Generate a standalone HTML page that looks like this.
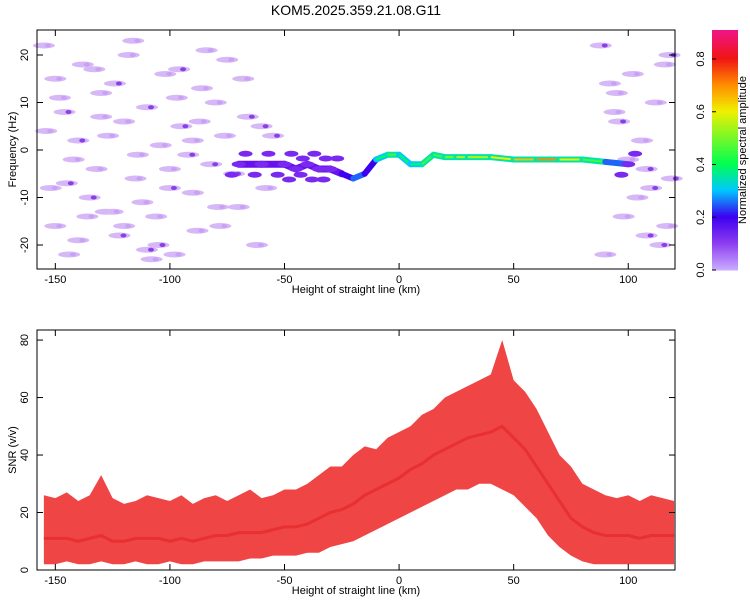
<!DOCTYPE html>
<html><head><meta charset="utf-8"><style>
body{margin:0;background:#fff;font-family:"Liberation Sans",sans-serif;}
svg text{font-family:"Liberation Sans",sans-serif;font-size:11px;fill:#000}
</style></head><body>
<svg id="c" width="750" height="600">
<text x="356" y="15" text-anchor="middle" font-size="14" style="font-size:14px">KOM5.2025.359.21.08.G11</text>
<g id="top"></g>
<g id="bot"></g>
<g id="cb"></g>
</svg>
<script>
const noiseX=[-155,-150,-146,-142,-138,-135,-130,-127,-122,-118,-115,-110,-106,-102,-98,-95,-90,-86,-82,-78,-75,-70,-66,-62,-152,-140,-132,-124,-112,-104,-96,-88,-80,-72,-148,-136,-120,-108,-92,-84,88,92,96,100,104,108,112,116,119,90,98,106,114,94,102,110,118,-144,-128,-116,-100,-76,-68,-154,-145,-133,-125,-114,-105,-97,-87,-79,-140,-120,-100,-60,-55,-58,95,108,117,-150,-130,-110,-90];
const noiseF=[22,15,8,-2,18,-10,12,3,-18,20,-6,9,-14,16,-22,5,-9,13,-3,-16,19,-12,7,-20,-8,-19,-4,14,-11,1,17,-17,10,-5,11,-14,6,-23,-1,21,22,14,6,-2,-10,-18,10,18,-6,-22,-14,2,-20,8,16,-8,20,-22,-13,23,-8,3,15,4,-7,17,-13,-1,-20,11,6,-12,2,-16,-4,5,3,-8,12,-4,-16,-16,7,-21,2];
const noiseA=[0.1,0.1,0.15,0.1,0.1,0.12,0.1,0.1,0.12,0.1,0.1,0.15,0.1,0.1,0.1,0.12,0.1,0.1,0.15,0.1,0.1,0.1,0.12,0.1,0.1,0.1,0.1,0.12,0.1,0.1,0.15,0.1,0.1,0.12,0.1,0.1,0.1,0.1,0.12,0.1,0.15,0.1,0.12,0.1,0.1,0.15,0.1,0.1,0.12,0.1,0.1,0.1,0.12,0.1,0.1,0.15,0.12,0.1,0.1,0.1,0.12,0.1,0.1,0.1,0.12,0.1,0.1,0.1,0.12,0.1,0.1,0.1,0.12,0.1,0.1,0.15,0.12,0.1,0.1,0.12,0.1,0.1,0.1,0.12,0.1];
const trackX=[-70,-60,-50,-45,-40,-35,-30,-25,-20,-15,-10,-5,0,5,10,15,20,25,30,40,50,60,70,80,90,100];
const trackF=[-3,-3,-3,-4,-3,-4,-4,-5,-6,-5,-2,-1,-1,-3,-3,-1,-1.5,-1.5,-1.5,-1.5,-2,-2,-2,-2,-2.5,-3];
const trackA=[0.12,0.12,0.15,0.15,0.15,0.15,0.15,0.2,0.25,0.2,0.3,0.35,0.3,0.3,0.35,0.35,0.4,0.45,0.45,0.5,0.55,0.6,0.5,0.35,0.25,0.18];
const snrX=[-155,-150,-145,-140,-135,-130,-125,-120,-115,-110,-105,-100,-95,-90,-85,-80,-75,-70,-65,-60,-55,-50,-45,-40,-35,-30,-25,-20,-15,-10,-5,0,5,10,15,20,25,30,35,40,45,50,55,60,65,70,75,80,85,90,95,100,105,110,115,120];
const snrHi=[26,25,27,24,26,33,25,23,24,26,25,24,26,23,25,26,24,26,28,25,26,28,28,30,33,36,36,40,43,42,46,48,50,54,56,60,62,64,66,68,80,66,62,56,48,40,36,30,28,26,25,26,24,26,25,24];
const snrLo=[2,2,3,2,2,3,2,2,3,2,2,3,2,2,3,3,3,3,4,4,5,5,5,6,6,8,9,10,12,14,16,18,20,22,24,26,28,28,30,30,28,26,22,18,12,8,5,3,2,2,2,2,2,2,2,2];
const snrMid=[11,11,11,10,11,12,10,10,11,11,11,10,11,10,11,12,12,13,13,13,14,15,15,16,18,20,21,23,26,28,30,32,35,37,40,42,44,46,47,48,50,46,42,36,30,24,18,15,13,12,12,12,11,12,12,12];
const xT=[-150,-100,-50,0,50,100], fT=[-20,-10,0,10,20], sT=[0,20,40,60,80], cT=[0,0.2,0.4,0.6,0.8];
const NS="http://www.w3.org/2000/svg";
const X0=37,X1=675,XMIN=-158,XMAX=120.4;
const xs=v=>X0+(v-XMIN)/(XMAX-XMIN)*(X1-X0);
const T0=30,T1=269,fs=f=>150-f*4.75;
const B0=330,B1=570,ss=s=>570-s*(240/83.5);
function el(p,t,a){const e=document.createElementNS(NS,t);for(const k in a)e.setAttribute(k,a[k]);p.appendChild(e);return e;}
function cmap(a){const st=[[0,[200,170,255]],[0.1,[140,60,240]],[0.2,[60,0,240]],[0.3,[0,200,255]],[0.4,[0,255,80]],[0.6,[240,240,0]],[0.7,[255,140,0]],[0.8,[240,20,20]],[0.92,[240,20,150]]];
 for(let i=1;i<st.length;i++){if(a<=st[i][0]){const t=(a-st[i-1][0])/(st[i][0]-st[i-1][0]);const c=st[i-1][1].map((v,j)=>Math.round(v+(st[i][1][j]-v)*t));return`rgb(${c})`;}}return'rgb(240,20,150)';}
const gTop=document.getElementById('top'),gBot=document.getElementById('bot'),gCb=document.getElementById('cb');
noiseX.forEach((x,i)=>{const e=el(gTop,'ellipse',{cx:xs(x),cy:fs(noiseF[i]),rx:11,ry:3,fill:'#d6b8f7'});


const d=el(gTop,'ellipse',{cx:xs(x)+4,cy:fs(noiseF[i]),rx:3,ry:2,fill:noiseA[i]>0.11?'#8a3ee8':'#c9a0f5'});

});
for(let i=0;i<trackX.length-1;i++){const w=trackA[i]<0.2?7:6;
const l=el(gTop,'line',{x1:xs(trackX[i]),y1:fs(trackF[i]),x2:xs(trackX[i+1]),y2:fs(trackF[i+1]),stroke:trackA[i]<0.2?'#6a10ee':cmap(Math.min(trackA[i],0.35)),'stroke-width':w,'stroke-linecap':'round'});


if(trackA[i]>=0.3){const c=el(gTop,'line',{x1:xs(trackX[i]),y1:fs(trackF[i]),x2:xs(trackX[i+1]),y2:fs(trackF[i+1]),stroke:cmap(trackA[i]+0.1),'stroke-width':2});

}}
trackX.forEach((x,i)=>{if(trackA[i]<0.2){for(let k=-1;k<=1;k++){const e=el(gTop,'ellipse',{cx:xs(x+k*3),cy:fs(trackF[i]+k*2.2),rx:7,ry:3,fill:'#7a2af0'});

}}});
function axes(g,y0,y1,yT,ysc,ylab,xlab){
 const r=el(g,'rect',{x:X0,y:y0,width:X1-X0,height:y1-y0,fill:'none',stroke:'#000','stroke-width':1});
 
 
 xT.forEach(v=>{const x=xs(v);el(g,'line',{x1:x,y1:y1,x2:x,y2:y1-6,stroke:'#000'});el(g,'line',{x1:x,y1:y0,x2:x,y2:y0+6,stroke:'#000'});
  const t=el(g,'text',{x:x,y:y1+14,'text-anchor':'middle'});t.textContent=v;
  
  });
 yT.forEach(v=>{const y=ysc(v);el(g,'line',{x1:X0,y1:y,x2:X0+6,y2:y,stroke:'#000'});el(g,'line',{x1:X1,y1:y,x2:X1-6,y2:y,stroke:'#000'});
  const t=el(g,'text',{x:28,y:y,'text-anchor':'middle',transform:`rotate(-90 28 ${y})`});t.textContent=v;
  
  });
 const xl=el(g,'text',{x:356,y:y1+24,'text-anchor':'middle'});xl.textContent=xlab;
 
 
 const cy=(y0+y1)/2;const yl=el(g,'text',{x:16,y:cy,'text-anchor':'middle',transform:`rotate(-90 16 ${cy})`});yl.textContent=ylab;
 
 }
axes(gTop,T0,T1,fT,fs,'Frequency (Hz)','Height of straight line (km)');
let pts=snrX.map((x,i)=>`${xs(x)},${ss(snrHi[i])}`);for(let i=snrX.length-1;i>=0;i--)pts.push(`${xs(snrX[i])},${ss(snrLo[i])}`);
const band=el(gBot,'polygon',{points:pts.join(' '),fill:'#f04545'});


const mid=el(gBot,'polyline',{points:snrX.map((x,i)=>`${xs(x)},${ss(snrMid[i])}`).join(' '),fill:'none',stroke:'#e83030','stroke-width':3});


axes(gBot,B0,B1,sT,ss,'SNR (v/v)','Height of straight line (km)');
const CY0=30,CY1=270,cs=v=>CY1-v/0.91*(CY1-CY0);
for(let i=0;i<120;i++){const a=i/120*0.91;el(gCb,'rect',{x:712,y:cs(a+0.91/120),width:26,height:(CY1-CY0)/120+0.5,fill:cmap(a)});}
cT.forEach(v=>{const y=cs(v);const t=el(gCb,'text',{x:704,y:y,'text-anchor':'middle',transform:`rotate(-90 704 ${y})`});t.textContent=v.toFixed(1);
 
 
 el(gCb,'line',{x1:712,y1:y,x2:716,y2:y,stroke:'#000'});});
const ct=el(gCb,'text',{x:746,y:150,'text-anchor':'middle',transform:'rotate(-90 746 150)'});ct.textContent='Normalized spectral amplitude';


</script>
</body></html>
